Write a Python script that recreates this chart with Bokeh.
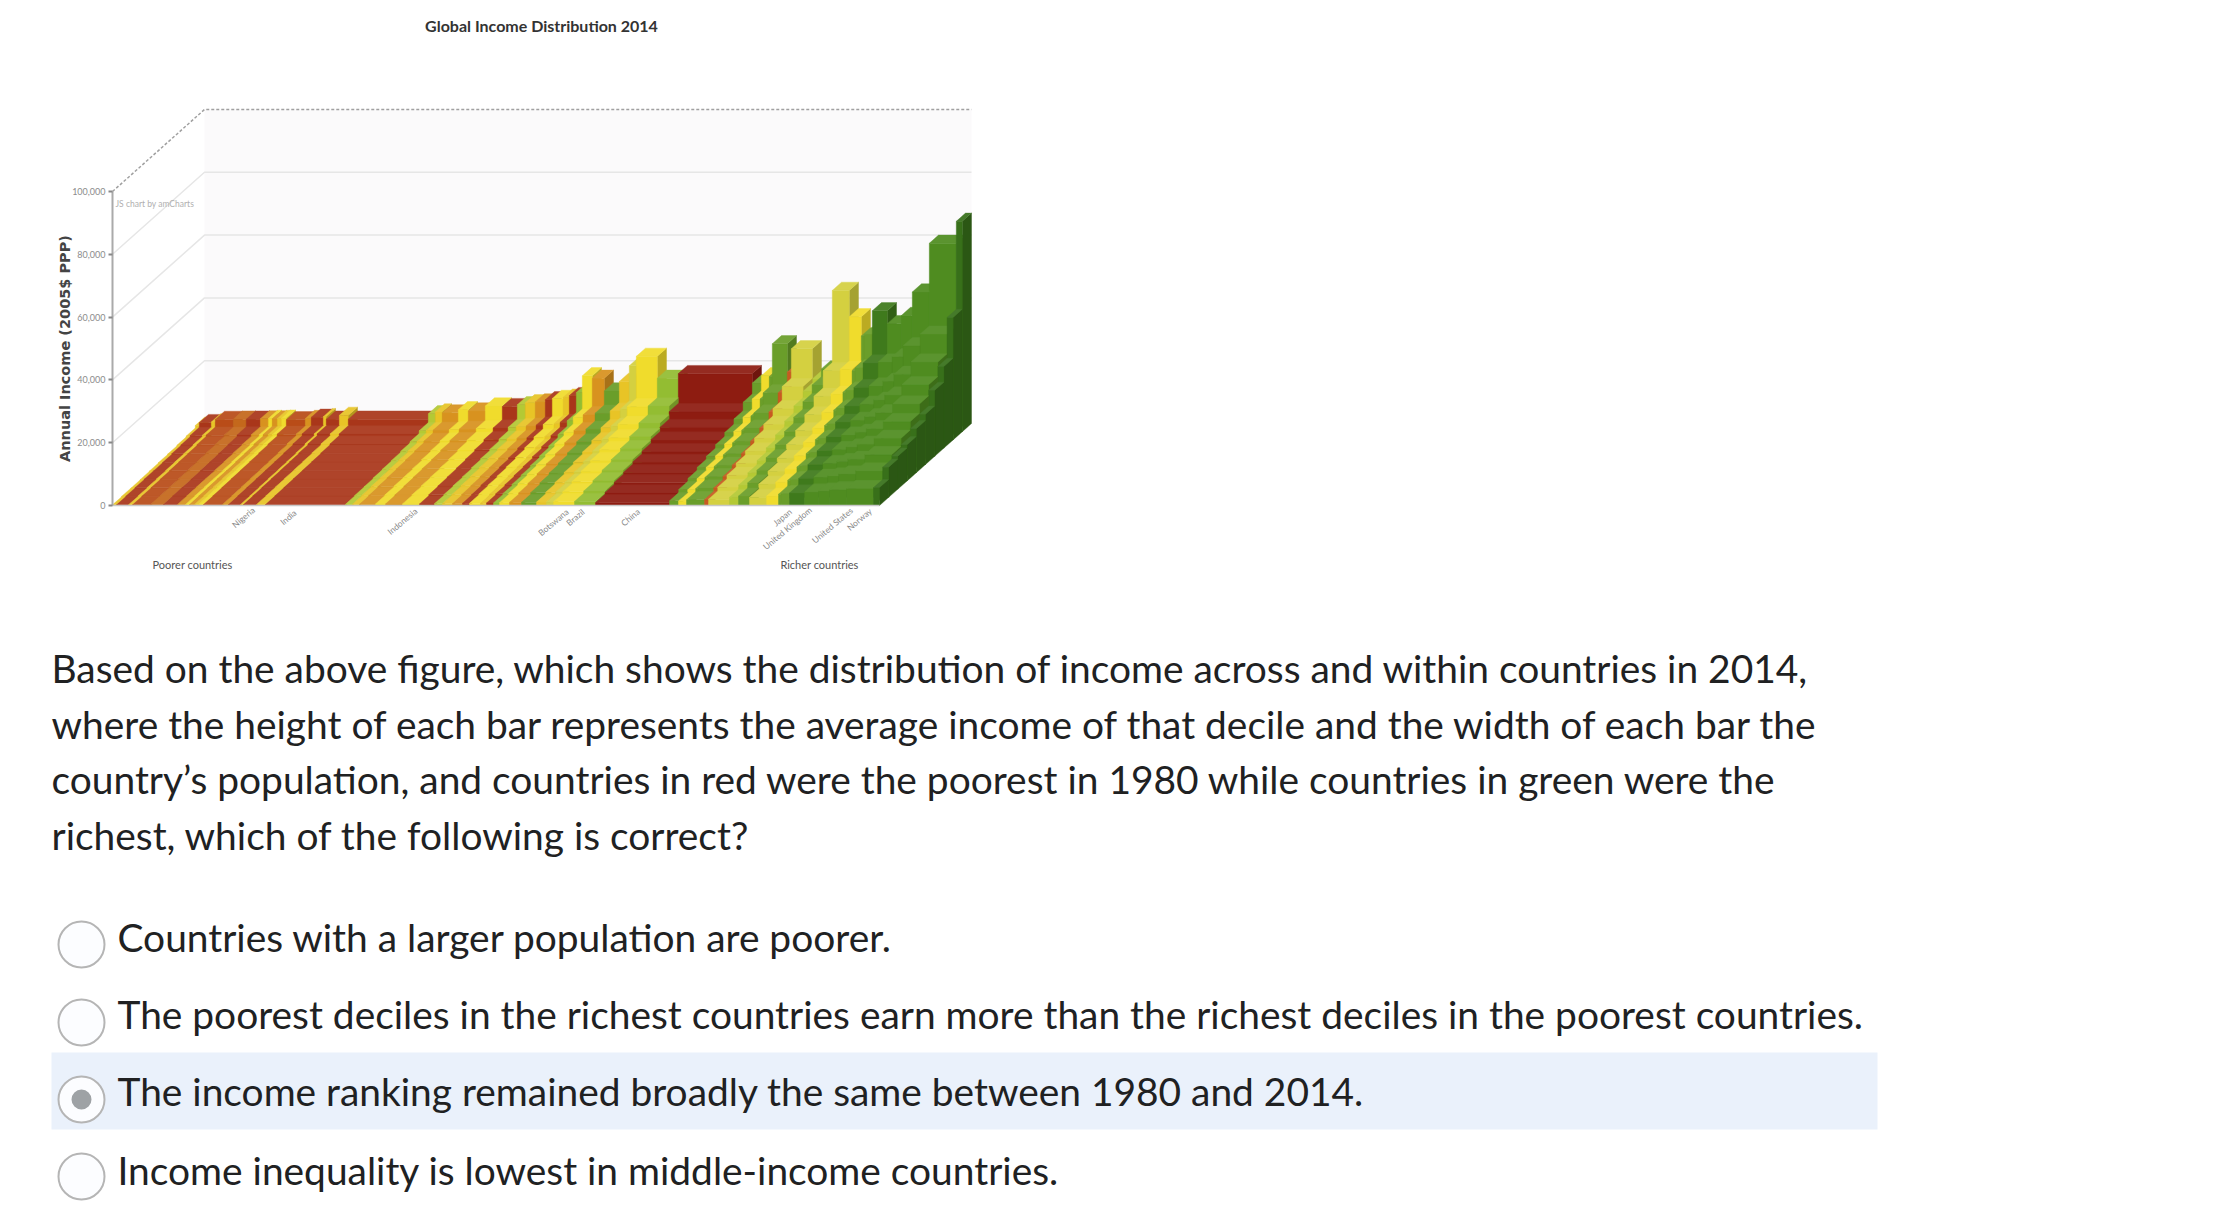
from bokeh.plotting import figure
from bokeh.embed import file_html
from bokeh.resources import INLINE
from bokeh.models import FixedTicker, NumeralTickFormatter
from bokeh.core.properties import value

# ---------- data ----------
title_text = "Global Income Distribution 2014"
y_axis_title = "Annual Income (2005$ PPP)"
y_ticks = [0, 20000, 40000, 60000, 80000, 100000]
credit = "JS chart by amCharts"
side_notes = ["Poorer countries", "Richer countries"]

R = "#a9361a"; DR = "#8e1c11"; O = "#b94c18"; DO = "#c4681c"; LO = "#d8921f"; Y = "#e8c426"
BY = "#f0dc2c"; OL = "#d4d040"; YG = "#b4c934"; LG = "#93bd32"; G = "#6a9e2a"; MG = "#4f8c20"; DG = "#3f7a1c"; NG = "#38701a"; ORR = "#c85a20"

seg_widths = [4, 12, 4, 18, 13, 14, 8, 4, 5, 4, 5, 19, 6, 12, 3, 13, 9, 80,
              7, 7, 16, 10, 17, 17, 15, 8, 10, 10, 7, 11, 6, 7, 6, 10, 12, 15, 10, 7, 21, 21, 74,
              9, 8, 3, 15, 4, 21, 9, 11, 17, 12, 3, 8, 15, 14, 11, 17, 27, 6]
seg_colors = [Y, R, Y, O, DO, R, LO, BY, LO, Y, BY, O, LO, R, Y, R, Y, R,
              YG, Y, LO, BY, LO, BY, R, YG, Y, LO, R, BY, Y, R, LG, BY, LO, G, Y, OL, BY, LG, DR,
              G, BY, G, G, ORR, OL, YG, G, OL, BY, G, G, DG, MG, MG, MG, MG, NG]
decile_k = [
 [.2,.3,.3,.4,.5,.6,.7,.9,1.2,2.0],
 [.2,.3,.4,.5,.5,.6,.8,1.0,1.4,2.9],
 [.2,.3,.4,.5,.6,.7,.8,1.0,1.4,3.1],
 [.2,.3,.4,.5,.6,.7,.8,1.1,1.5,3.9],
 [.3,.3,.4,.5,.6,.7,.9,1.1,1.5,4.0],
 [.3,.4,.4,.5,.6,.7,.9,1.1,1.6,4.0],
 [.3,.4,.5,.5,.6,.7,.9,1.1,1.6,4.1],
 [.3,.4,.5,.5,.6,.8,.9,1.2,1.6,4.2],
 [.3,.4,.5,.6,.6,.8,.9,1.2,1.7,4.1],
 [.3,.4,.5,.6,.7,.8,1.0,1.2,1.7,4.2],
 [.3,.4,.5,.6,.7,.8,1.0,1.2,1.7,4.3],
 [.3,.4,.5,.6,.7,.8,1.0,1.2,1.8,3.8],
 [.3,.4,.5,.6,.7,.8,1.0,1.3,1.8,4.2],
 [.3,.4,.5,.6,.7,.8,1.0,1.3,1.9,4.6],
 [.3,.4,.5,.6,.7,.8,1.0,1.3,1.9,4.8],
 [.3,.4,.5,.6,.7,.8,1.0,1.3,1.9,4.0],
 [.3,.4,.5,.6,.7,.8,1.0,1.3,1.9,5.2],
 [.3,.4,.5,.6,.7,.8,1.0,1.3,1.9,4.0],
 [.4,.6,.7,.9,1.1,1.3,1.6,2.0,2.9,5.7],
 [.4,.6,.8,.9,1.1,1.3,1.6,2.1,3.0,6.3],
 [.4,.6,.8,1.0,1.2,1.4,1.7,2.2,3.1,6.0],
 [.5,.7,.9,1.0,1.2,1.5,1.8,2.3,3.2,7.0],
 [.5,.7,.9,1.1,1.3,1.5,1.9,2.4,3.4,6.6],
 [.5,.7,.9,1.1,1.3,1.6,2.0,2.5,3.6,8.2],
 [.5,.8,1.0,1.2,1.4,1.7,2.1,2.7,3.8,8.0],
 [.6,.8,1.0,1.2,1.5,1.8,2.2,2.8,4.0,8.6],
 [.6,.8,1.1,1.3,1.6,1.9,2.3,2.9,4.2,9.2],
 [.6,.9,1.1,1.4,1.6,2.0,2.4,3.1,4.4,9.5],
 [.7,.9,1.2,1.4,1.7,2.1,2.6,3.3,4.7,10.2],
 [.7,1.0,1.2,1.5,1.8,2.2,2.7,3.5,4.9,10.6],
 [.7,1.0,1.3,1.6,1.9,2.3,2.9,3.7,5.2,11.0],
 [.8,1.1,1.4,1.7,2.0,2.5,3.1,4.0,5.6,11.5],
 [.8,1.1,1.5,1.8,2.2,2.7,3.3,4.3,6.1,12.5],
 [.9,1.3,1.7,2.1,2.5,3.1,3.9,5.0,7.2,17.8],
 [1.0,1.4,1.8,2.3,2.8,3.4,4.3,5.6,8.0,17.0],
 [1.0,1.5,2.0,2.5,3.0,3.7,4.6,6.0,8.5,13.0],
 [1.1,1.6,2.1,2.7,3.3,4.0,5.0,6.5,9.2,16.0],
 [1.1,1.7,2.2,2.8,3.5,4.3,5.4,7.0,9.8,21.0],
 [1.2,1.8,2.4,3.1,3.8,4.7,5.9,7.6,10.6,24.0],
 [1.3,2.0,2.7,3.4,4.2,5.1,6.3,8.0,10.8,17.0],
 [.9,1.4,2.0,2.6,3.3,4.1,5.2,6.6,9.0,18.5],
 [1.5,2.5,3.4,4.3,5.2,6.3,7.6,9.3,12.0,15.5],
 [1.4,2.4,3.3,4.3,5.3,6.5,7.9,9.8,13.0,17.8],
 [1.8,2.8,3.7,4.6,5.7,6.9,8.3,10.2,13.0,17.5],
 [1.9,3.0,4.0,5.0,6.1,7.4,9.0,11.2,15.0,28.0],
 [1.9,3.0,4.0,5.0,6.1,7.4,9.0,11.5,15.0,19.0],
 [2.0,3.2,4.4,5.6,6.9,8.4,10.2,12.6,17.0,26.4],
 [2.6,3.9,5.2,6.5,7.9,9.4,11.2,13.4,15.5,16.8],
 [3.0,4.6,6.0,7.4,8.9,10.5,12.4,14.8,17.5,20.0],
 [2.6,4.2,5.7,7.2,8.9,10.8,13.2,16.5,22.0,45.0],
 [3.0,4.8,6.4,8.0,9.7,11.6,14.0,17.2,22.5,36.6],
 [3.6,5.4,7.0,8.7,10.5,12.4,14.7,17.8,22.0,30.5],
 [3.8,5.7,7.4,9.1,11.0,13.0,15.4,18.5,23.0,31.0],
 [4.0,6.0,7.8,9.6,11.4,13.5,16.0,19.3,24.5,38.5],
 [4.3,6.4,8.2,10.0,12.0,14.1,16.6,19.8,24.8,34.4],
 [4.6,6.8,8.8,10.8,12.9,15.2,17.9,21.3,26.5,37.0],
 [5.0,7.4,9.5,11.7,14.0,16.5,19.5,23.5,30.0,44.5],
 [5.4,8.4,11.0,13.6,16.3,19.3,22.8,27.4,33.7,60.0],
 [5.7,9.6,10.5,11.5,14.0,16.0,21.0,26.0,39.0,67.0],
]

country_labels = ["Nigeria", "India", "Indonesia", "Botswana", "Brazil", "China",
                  "Japan", "United Kingdom", "United States", "Norway"]
question_lines = [
    "Based on the above figure, which shows the distribution of income across and within countries in 2014,",
    "where the height of each bar represents the average income of that decile and the width of each bar the",
    "country\u2019s population, and countries in red were the poorest in 1980 while countries in green were the",
    "richest, which of the following is correct?",
]
options = [
    "Countries with a larger population are poorer.",
    "The poorest deciles in the richest countries earn more than the richest deciles in the poorest countries.",
    "The income ranking remained broadly the same between 1980 and 2014.",
    "Income inequality is lowest in middle-income countries.",
]
selected_option = 2

# ---------- layout ----------
W, H = 2217, 1203
AX_X, BASE_Y = 112, 505       # picture pixels of the front origin
PX_PER_USD = 314 / 100000
DEPTH_DX, DEPTH_DY = 92, 82
LATO = value("Lato")

def sx(px):  # picture x -> data x
    return px - AX_X
def sy(px):  # picture y -> data y (USD)
    return (BASE_Y - px) / PX_PER_USD

p = figure(width=W, height=H, output_backend="svg", toolbar_location=None,
           x_range=(sx(0), sx(W)), y_range=(sy(H), sy(0)), min_border=0)
p.outline_line_color = None
p.grid.visible = False
p.xaxis.visible = False
p.background_fill_color = "white"

ax = p.yaxis[0]
ax.fixed_location = 0
ax.bounds = (0, 100000)
ax.ticker = FixedTicker(ticks=y_ticks)
ax.formatter = NumeralTickFormatter(format="0,0")
ax.axis_line_color = "#aaaaaa"
ax.axis_line_width = 2
ax.major_tick_line_color = "#888888"
ax.major_tick_line_width = 2
ax.major_tick_in = 0
ax.major_tick_out = 4
ax.minor_tick_line_color = None
ax.major_label_text_color = "#8c8c8c"
ax.major_label_text_font = "Lato"
ax.major_label_text_font_size = "9px"
ax.major_label_standoff = 3
ax.axis_label = y_axis_title
ax.axis_label_text_font = "DejaVu Sans"
ax.axis_label_text_font_style = "bold"
ax.axis_label_text_font_size = "14.5px"
ax.axis_label_text_color = "#444444"
ax.axis_label_standoff = -4

def proj(x, income, z):
    return x + DEPTH_DX * z, income + z * DEPTH_DY / PX_PER_USD

x_total = sum(seg_widths)
# back wall and grid
bx0, by0 = proj(0, 0, 1)
bx1, by1 = proj(x_total, 100000, 1)
p.quad(left=bx0, right=bx1, bottom=by0, top=by1, fill_color="#fbfafb", line_color=None)
for t in y_ticks:
    xa, ya = proj(0, t, 0)
    xb, yb = proj(0, t, 1)
    xc, yc = proj(x_total, t, 1)
    dash = "3 2" if t == 100000 else "solid"
    col = "#a0a0a0" if t == 100000 else "#e6e6e6"
    if t > 0:
        p.line([xa, xb, xc], [ya, yb, yc], line_color=col, line_width=1.5, line_dash=dash)

# bars
def shade(c, f):
    r, g, b = int(c[1:3], 16), int(c[3:5], 16), int(c[5:7], 16)
    if f >= 1:
        r, g, b = [min(255, int(v + (255 - v) * (f - 1))) for v in (r, g, b)]
    else:
        r, g, b = [int(v * f) for v in (r, g, b)]
    return "#%02x%02x%02x" % (r, g, b)

xs, ys, fills = [], [], []
n_rows = 10
for row in range(n_rows - 1, -1, -1):
    z0, z1 = row / n_rows, (row + 1) / n_rows
    left = 0
    for w, c, d in zip(seg_widths, seg_colors, decile_k):
        h = d[row] * 1000
        right = left + w
        faces = [
            ([(right, 0, z0), (right, 0, z1), (right, h, z1), (right, h, z0)], 0.78),
            ([(left, 0, z0), (right, 0, z0), (right, h, z0), (left, h, z0)], 1.0),
            ([(left, h, z0), (right, h, z0), (right, h, z1), (left, h, z1)], 1.07),
        ]
        for pts, f in faces:
            q = [proj(*pt) for pt in pts]
            xs.append([a for a, _ in q])
            ys.append([b for _, b in q])
            fills.append(shade(c, f))
        left = right
p.patches(xs, ys, fill_color=fills, line_color=fills, line_width=0.4)

# baseline
p.line([0, x_total], [0, 0], line_color="#c8c8c8", line_width=1.5)

def txt(px, py, s, font, size, color, align="left", base="alphabetic", angle=0, style="normal"):
    p.text([sx(px)], [sy(py)], text=[s], text_font=font, text_font_size=size, text_color=color,
           text_align=align, text_baseline=base, angle=angle, text_font_style=style)

txt(541, 25, title_text, LATO, "16px", "#333333", "center", "middle", style="bold")
txt(115, 203, credit, LATO, "8.5px", "#b0b0b0", "left", "middle")
txt(192, 564, side_notes[0], LATO, "11px", "#555555", "center", "middle")
txt(819, 564, side_notes[1], LATO, "11px", "#555555", "center", "middle")

label_x = [243, 288, 402, 553, 575, 630, 782, 787, 832, 859]
label_y = [517, 517, 521, 522, 517, 517, 517, 528, 525, 519]
for s, lx, ly in zip(country_labels, label_x, label_y):
    txt(lx, ly, s, LATO, "8.5px", "#8a8a8a", "center", "middle", angle=0.7)

# question text
q_base = [667.5, 723, 778.5, 834]
for s, b in zip(question_lines, q_base):
    txt(51, b, s, LATO, "38.9px", "#202122")

# options
p.quad(left=sx(51), right=sx(1877), bottom=sy(1129), top=sy(1052), fill_color="#eaf1fb", line_color=None)
opt_base = [936, 1013, 1090, 1169]
opt_cy = [944, 1022, 1099, 1176]
for i, (s, b, cy) in enumerate(zip(options, opt_base, opt_cy)):
    p.scatter([sx(81)], [sy(cy)], size=46, marker="circle", fill_color="#fcfdff",
              line_color="#b5b5b5", line_width=2)
    if i == selected_option:
        p.scatter([sx(81)], [sy(cy)], size=20, marker="circle", fill_color="#9ea2a5", line_color=None)
    txt(117, b, s, LATO, "38.9px", "#202122")

open("out.html", "w").write(file_html(p, INLINE))
